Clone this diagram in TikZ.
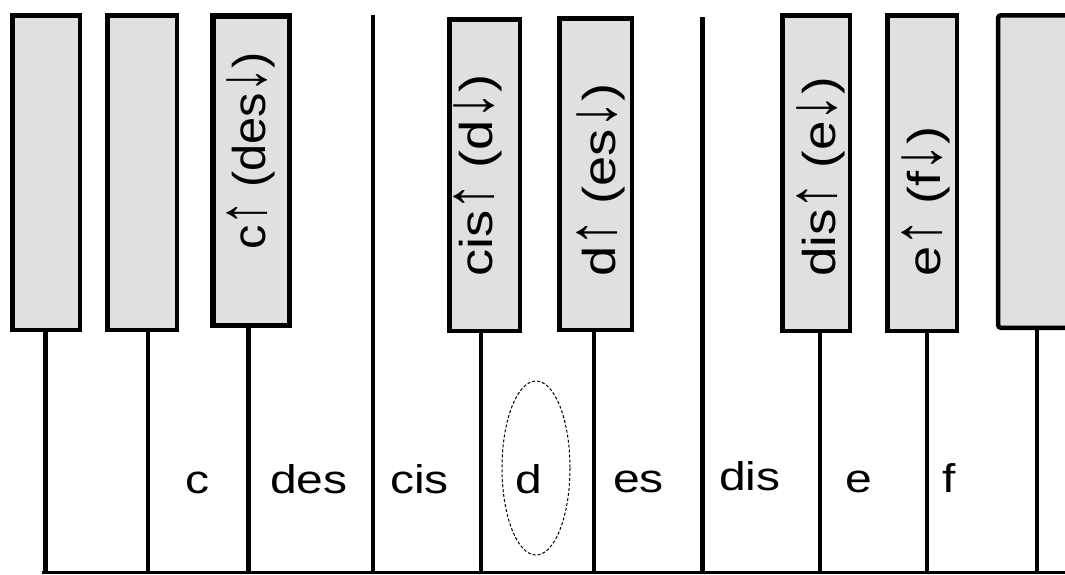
\documentclass[tikz,border=0pt]{standalone}
\usepackage{fontspec}
\setmainfont{Liberation Sans}
\usepackage{graphicx}
\usepackage{xcolor}
\usepackage{tikz}
\usetikzlibrary{
	positioning,    % posizionamento relativo
	calc            % coordinate calcolate
}
\definecolor{grigiotasto}{RGB}{224,224,224}
% testo allargato (come nell'originale)
\newcommand{\allarga}[2][1.2]{\scalebox{#1}[1]{#2}}
% frecce un po' piu' lunghe
\newcommand{\su}{\scalebox{1}[1.5]{↑}}
\newcommand{\giu}{\scalebox{1}[1.5]{↓}}

\begin{document}
\begin{tikzpicture}[x=1pt, y=-1pt,
	tastonero/.style={draw, fill=grigiotasto, inner sep=0pt, outer sep=0pt},
	gambo/.style={line width=3.3pt},
	gambospesso/.style={line width=5pt},
	nota/.style={inner sep=0pt, anchor=base west, font=\fontsize{40}{48}\selectfont},
	notarot/.style={nota, rotate=90, font=\fontsize{46}{52}\selectfont},
	ovale/.style={line width=1pt, dash pattern=on 3pt off 2pt}]
	\clip (0,0) rectangle (1065,574);
	\fill[white] (0,0) rectangle (1065,574);
	
	% --- Tasti neri ---
	\foreach \nome/\xa/\xb/\ya/\yb/\lw in {k1/10/82/13/332/4.5, k2/105/179/13/332/4.5,
		k3/210/292/13/328/5.5, k4/447/522/17/333/4.5, k5/557/634/16/332/4.5,
		k6/780/852/13/333/4.5, k7/885/959/13/333/4.5}
	\node[tastonero, line width=\lw pt, minimum width={\xb-\xa-\lw}, minimum height={\yb-\ya-\lw}]
		(\nome) at ({(\xa+\xb)/2},{(\ya+\yb)/2}) {};
	% ultimo tasto, tagliato dal bordo
	\node[tastonero, line width=4.5pt, rounded corners=3pt, minimum width=80pt, minimum height=312.5pt]
		(k8) at (1038,171.5) {};
	
	% --- Gambi e linea di fondo ---
	\foreach \n/\x/\st in {1/45/gambospesso, 2/148/gambo, 3/248/gambospesso, 4/481/gambo,
		5/594/gambo, 6/820/gambo, 7/927/gambo, 8/1037/gambo}
	{
		\coordinate (b\n) at (\x,572);
		\draw[\st] (k\n.south -| b\n) -- (b\n);
	}
	\coordinate (t1) at (373,15);
	\coordinate (t2) at (702,17);
	\draw[gambo] (t1) -- (t1 |- b1);
	\draw[gambospesso] (t2) -- (t2 |- b1);
	\coordinate (fondosx) at (42,572);
	\coordinate (fondodx) at (1070,572);
	\draw[line width=3pt] (fondosx) -- (fondodx);
	
	% --- Etichette sui tasti neri ---
	\node[notarot] (n3) at (265,250) {\allarga[1.06]{c\su{} (des\giu)}};
	\node[notarot] (n4) at (492,277) {\allarga[1.18]{cis\su{} (d\giu)}};
	\node[notarot] (n5) at (615,277) {\allarga[1.18]{d\su{} (es\giu)}};
	\node[notarot] (n6) at (835,277) {\allarga[1.15]{dis\su{} (e\giu)}};
	\node[notarot] (n7) at (940,277) {\allarga[1.18]{e\su{} (f\giu)}};
	
	% --- Etichette sui tasti bianchi ---
	\node[nota] (wc)   at (185,493) {\allarga{c}};
	\node[nota] (wdes) at (270,493) {\allarga{des}};
	\node[nota] (wcis) at (390,493) {\allarga{cis}};
	\node[nota] (wd)   at (515,493) {\allarga{d}};
	\node[nota] (wes)  at (613,492) {\allarga{es}};
	\node[nota] (wdis) at (719,490) {\allarga{dis}};
	\node[nota] (we)   at (845,492) {\allarga{e}};
	\node[nota] (wf)   at (942,492) {\allarga{f}};
	
	% ovale tratteggiato attorno a d
	\draw[ovale] (536,468) ellipse [x radius=34, y radius=87];
\end{tikzpicture}
\end{document}
